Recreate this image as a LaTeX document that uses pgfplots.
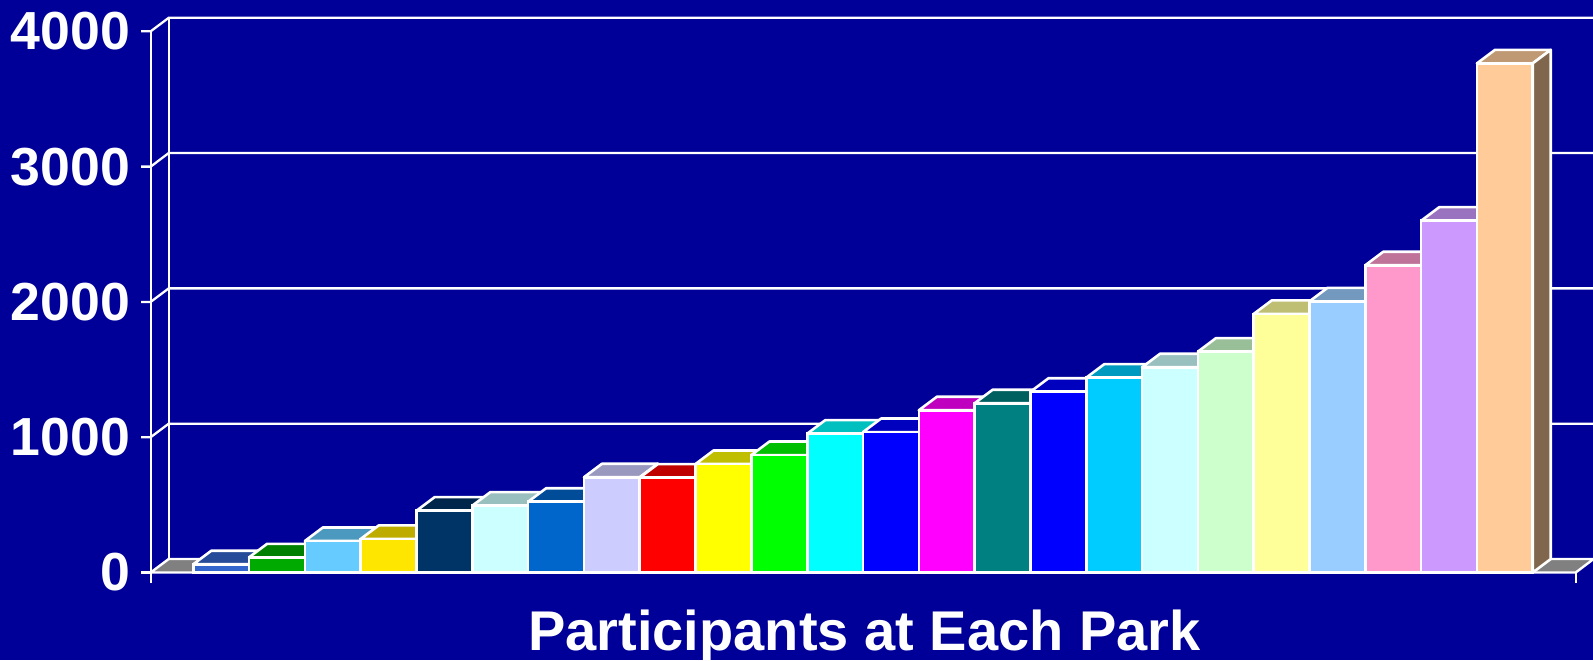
\documentclass[border=0pt]{standalone}
\usepackage{pgfplots}
\pgfplotsset{compat=1.18}
\usepackage{fontspec}
\setmainfont{Liberation Sans}
\definecolor{bg}{HTML}{000099}
\definecolor{floorgray}{HTML}{808080}
\definecolor{b1}{HTML}{3366CC}
\definecolor{b2}{HTML}{00AA00}
\definecolor{b3}{HTML}{66CCFF}
\definecolor{b4}{HTML}{FFE600}
\definecolor{b5}{HTML}{003366}
\definecolor{b6}{HTML}{CCFFFF}
\definecolor{b7}{HTML}{0066CC}
\definecolor{b8}{HTML}{CCCCFF}
\definecolor{b9}{HTML}{FF0000}
\definecolor{b10}{HTML}{FFFF00}
\definecolor{b11}{HTML}{00FF00}
\definecolor{b12}{HTML}{00FFFF}
\definecolor{b13}{HTML}{0000FF}
\definecolor{b14}{HTML}{FF00FF}
\definecolor{b15}{HTML}{008080}
\definecolor{b16}{HTML}{0000FF}
\definecolor{b17}{HTML}{00CCFF}
\definecolor{b18}{HTML}{CCFFFF}
\definecolor{b19}{HTML}{CCFFCC}
\definecolor{b20}{HTML}{FFFF99}
\definecolor{b21}{HTML}{99CCFF}
\definecolor{b22}{HTML}{FF99CC}
\definecolor{b23}{HTML}{CC99FF}
\definecolor{b24}{HTML}{FFCC99}
\def\dx{0.323}
\def\dy{100}
\begin{document}
\begin{tikzpicture}
\path[use as bounding box] (0,0) rectangle (796.5pt,330pt);
\fill[bg] (0,0) rectangle (796.5pt,330pt);
\begin{axis}[
  at={(75.35pt,43.75pt)}, anchor=south west,
  scale only axis, width=712.5pt, height=270.6pt,
  xmin=-0.263, xmax=25.27, ymin=0, ymax=4000,
  clip=false,
  axis line style={draw=none},
  major tick style={draw=none},
  xtick=\empty,
  ytick={0,1000,2000,3000,4000},
  /pgf/number format/1000 sep={},
  /pgf/number format/assume math mode=true,
  yticklabel style={font=\fontsize{26.8}{28}\selectfont\bfseries, text=white, anchor=east, inner sep=0pt, xshift=-10.2pt},
]
% back wall gridlines
\foreach \v in {1000,2000,3000,4000} {
  \pgfmathsetmacro\vb{\v+\dy}
  \edef\temp{\noexpand\addplot[white, line width=1.15pt] coordinates {(-0.433,\v) (-0.263,\v) (0.06,\vb) (25.59,\vb)};}
  \temp
}
% back wall vertical line
\addplot[white, line width=1.15pt] coordinates {(0.06,100) (0.06,4100)};
% floor
\addplot[fill=floorgray, draw=white, line width=1.2pt] coordinates {(-0.263,0) (0.06,100) (25.59,100) (25.27,0)} -- cycle;
% front axis and bottom ticks
\addplot[white, line width=1.15pt] coordinates {(-0.263,-78) (-0.263,4000)};
\addplot[white, line width=1.15pt] coordinates {(-0.433,0) (-0.263,0)};
\addplot[white, line width=1.15pt] coordinates {(25.27,0) (25.27,-78)};
% bars
\foreach \i/\h in {1/61, 2/112, 3/233, 4/248, 5/457, 6/494, 7/523, 8/704, 9/701, 10/802, 11/868, 12/1026, 13/1038, 14/1199, 15/1251, 16/1336, 17/1440, 18/1517, 19/1632, 20/1911, 21/2004, 22/2271, 23/2600, 24/3763} {
  \pgfmathsetmacro\xl{\i-0.5}
  \pgfmathsetmacro\xr{\i+0.5}
  \pgfmathsetmacro\xlb{\i-0.5+\dx}
  \pgfmathsetmacro\xrb{\i+0.5+\dx}
  \pgfmathsetmacro\hb{\h+\dy}
  \edef\temp{%
    \noexpand\addplot[fill=b\i!75!black, draw=white, line width=1.3pt, line join=round] coordinates {(\xl,\h) (\xlb,\hb) (\xrb,\hb) (\xr,\h)} -- cycle;
    \noexpand\addplot[fill=b\i!50!black, draw=white, line width=1.3pt, line join=round] coordinates {(\xr,0) (\xrb,\dy) (\xrb,\hb) (\xr,\h)} -- cycle;
    \noexpand\addplot[ybar, bar width=1, bar shift=0pt, fill=b\i, draw=white, line width=1.3pt] coordinates {(\i,\h)};
  }
  \temp
}
\end{axis}
\node[anchor=base, text=white, font=\fontsize{28}{28}\selectfont\bfseries, inner sep=0pt] at (432.25pt,5pt) {Participants at Each Park};
\end{tikzpicture}
\end{document}
